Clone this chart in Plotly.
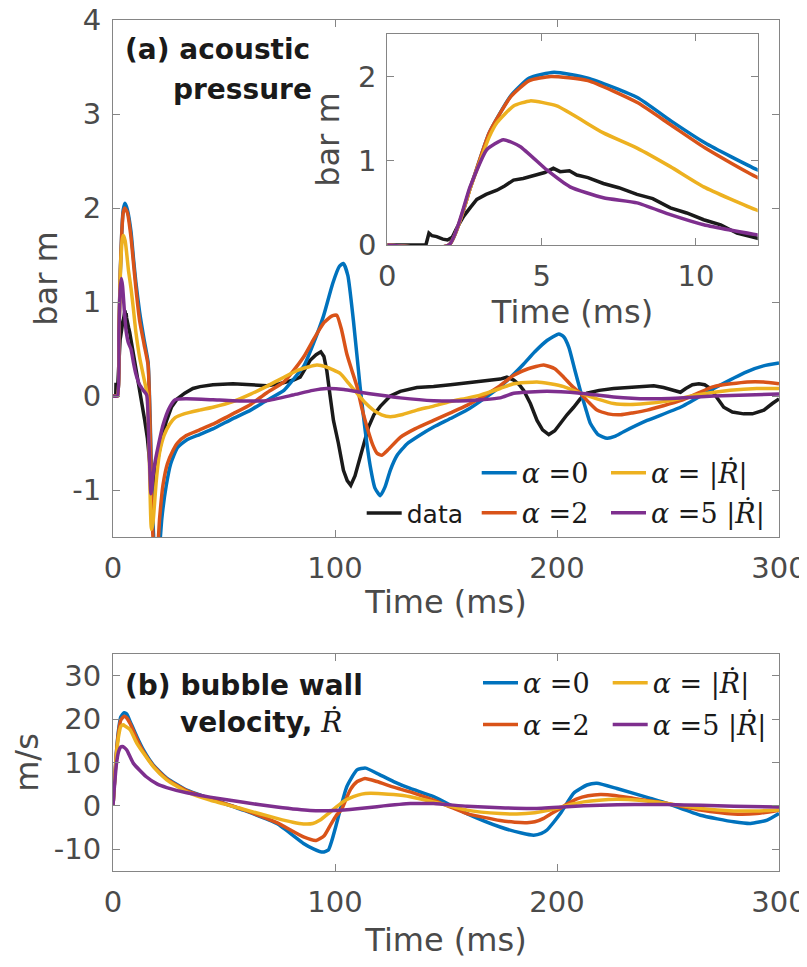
import plotly.graph_objects as go

# page: 807 x 967 window, the figure div sits 8 px in from the top-left (body margin)
OFF = 8
W, H = 807 - OFF, 967 - 2 * OFF

# ---------------- data: panel (a) acoustic pressure (bar m) vs time (ms) ----------------
t_data = [0, 1.25, 1.35, 1.45, 1.6, 1.8, 1.95, 2.1, 2.25, 2.47, 2.7, 2.9, 3.2, 3.55, 3.8, 4.09, 4.4,
          4.84, 5.1, 5.38, 5.6, 5.9, 6.14, 6.5, 7.0, 7.5, 8.09, 8.6, 9.17, 9.7, 10.25, 10.8, 11.33,
          12.0, 13.0, 14.3, 15.5, 16.5, 17.3, 18.0, 19.0, 20.0, 21.8, 24.0, 26.3, 29.0, 32.3, 36.0,
          39.2, 45, 54, 62, 69.3, 75, 81.3, 84.3, 88.8, 91.5, 93.6, 95.0, 96.3, 97.8, 99.3, 101.5,
          103.8, 105.5, 107.1, 109, 111.3, 113.2, 115.1, 117.5, 120.4, 124.9, 129.4, 136.9, 144.4,
          152, 159.4, 166, 174.4, 177.4, 180.5, 183, 185, 188, 191, 193.5, 196.3, 199, 201.5, 204.5,
          207.5, 210.5, 213.5, 219, 225.5, 233, 240.6, 243.6, 248, 252, 255.6, 258, 261, 263.9,
          266.5, 269.1, 272, 275.1, 279, 284.1, 288, 293.2, 297, 300]
p_data = [0, 0, 0.14, 0.11, 0.10, 0.07, 0.06, 0.09, 0.20, 0.34, 0.45, 0.54, 0.60, 0.65, 0.70, 0.77,
          0.79, 0.83, 0.86, 0.91, 0.87, 0.88, 0.83, 0.80, 0.73, 0.68, 0.60, 0.55, 0.44, 0.38, 0.30,
          0.24, 0.14, 0.08, -0.05, -0.26, -0.45, -0.72, -0.95, -1.07, -0.9, -0.7, -0.47, -0.27,
          -0.12, -0.03, 0.03, 0.08, 0.10, 0.12, 0.13, 0.12, 0.11, 0.13, 0.17, 0.2, 0.38, 0.44, 0.47,
          0.42, 0.27, 0.0, -0.26, -0.5, -0.79, -0.9, -0.95, -0.85, -0.66, -0.48, -0.33, -0.2, -0.11,
          0.0, 0.05, 0.09, 0.10, 0.12, 0.14, 0.15, 0.18, 0.2, 0.17, 0.12, 0.06, -0.08, -0.26, -0.36,
          -0.41, -0.37, -0.29, -0.2, -0.12, -0.03, 0.03, 0.06, 0.08, 0.09, 0.10, 0.11, 0.09, 0.06,
          0.04, 0.08, 0.12, 0.13, 0.12, 0.08, -0.02, -0.12, -0.17, -0.19, -0.19, -0.15, -0.08, -0.03]

t_a0 = [0, 2.0, 2.7, 3.3, 4.0, 4.6, 5.4, 6.5, 8.1, 9.2, 10.3, 12.0, 14.0, 15.8, 16.8, 17.8, 18.8,
        19.8, 21.0, 22.0, 24.0, 26.0, 29.0, 33.0, 39.0, 45.0, 54.0, 62.0, 69.0, 77.0, 81.0, 86.0,
        90.3, 94.8, 99.0, 102.0, 103.8, 105.8, 108.3, 111.3, 113.5, 115.9, 118.0, 120.4, 122.5,
        124.9, 128.0, 132.4, 138.0, 144.4, 152.0, 159.4, 167.0, 174.4, 180.0, 185.0, 190.0, 195.5,
        200.8, 203.0, 205.3, 208.0, 210.5, 213.0, 215.0, 218.5, 222.6, 226.0, 230.0, 240.6, 255.6,
        270.6, 285.7, 293.0, 300.0]
p_a0 = [0, 0, 0.69, 1.33, 1.77, 1.98, 2.05, 1.98, 1.75, 1.47, 1.21, 0.89, 0.6, 0.36, -0.3, -1.2,
        -1.7, -1.8, -1.6, -1.3, -0.95, -0.72, -0.55, -0.47, -0.41, -0.35, -0.24, -0.15, -0.05,
        0.06, 0.17, 0.32, 0.56, 0.85, 1.2, 1.38, 1.41, 1.28, 0.8, 0.10, -0.35, -0.75, -0.98, -1.06,
        -0.97, -0.79, -0.63, -0.51, -0.42, -0.33, -0.24, -0.15, -0.03, 0.10, 0.22, 0.34, 0.47,
        0.59, 0.66, 0.63, 0.52, 0.28, 0.06, -0.14, -0.29, -0.41, -0.45, -0.43, -0.38, -0.26,
        -0.12, 0.08, 0.26, 0.32, 0.35]

t_a2 = [0, 2.0, 2.7, 3.3, 4.0, 4.6, 5.3, 6.5, 8.1, 9.2, 10.3, 12.0, 14.0, 15.8, 16.8, 17.8, 18.8,
        19.8, 21.0, 22.5, 24.5, 27.0, 29.0, 33.0, 39.0, 45.0, 54.0, 62.0, 69.0, 77.0, 81.3, 86.0,
        90.3, 95.0, 98.5, 100.8, 103.0, 105.3, 107.5, 109.9, 112.0, 114.4, 117.0, 119.0, 121.1,
        124.0, 129.4, 136.0, 144.4, 152.0, 159.4, 167.0, 174.4, 180.5, 187.0, 194.0, 199.0, 203.0,
        207.0, 210.5, 214.0, 218.0, 223.0, 228.6, 234.0, 240.6, 255.6, 270.6, 285.7, 293.0, 300.0]
p_a2 = [0, 0, 0.69, 1.33, 1.76, 1.95, 2.0, 1.95, 1.69, 1.42, 1.15, 0.80, 0.55, 0.33, -0.4, -1.4,
        -1.75, -1.7, -1.3, -0.95, -0.72, -0.58, -0.5, -0.42, -0.36, -0.3, -0.19, -0.09, 0.03, 0.15,
        0.27, 0.42, 0.6, 0.78, 0.85, 0.86, 0.7, 0.45, 0.28, 0.1, -0.12, -0.33, -0.52, -0.61, -0.63,
        -0.57, -0.44, -0.35, -0.26, -0.18, -0.10, 0.0, 0.11, 0.22, 0.29, 0.33, 0.29, 0.2, 0.1, 0.03,
        -0.06, -0.15, -0.19, -0.2, -0.18, -0.15, -0.05, 0.1, 0.15, 0.15, 0.13]

t_ar = [0, 2.0, 2.7, 3.3, 3.55, 4.09, 4.63, 5.49, 7.0, 8.09, 9.17, 10.25, 12.0, 14.0, 15.5, 16.3,
        17.3, 18.0, 19.5, 21.0, 23.0, 25.5, 28.0, 32.0, 39.0, 45.0, 54.0, 62.0, 69.0, 77.0, 84.0,
        91.8, 96.0, 102.3, 106.0, 109.9, 113.5, 117.3, 121.0, 124.9, 130.0, 136.9, 144.0, 151.9,
        160.0, 165.4, 174.4, 180.5, 191.0, 197.0, 203.0, 210.5, 218.0, 225.5, 233.0, 240.0, 248.0,
        263.0, 278.0, 290.0, 300.0]
p_ar = [0, 0, 0.69, 1.28, 1.45, 1.65, 1.71, 1.65, 1.33, 1.15, 0.93, 0.69, 0.41, 0.18, 0.0, -0.6,
        -1.42, -1.35, -0.9, -0.6, -0.42, -0.3, -0.23, -0.19, -0.15, -0.12, -0.06, 0.02, 0.1, 0.2,
        0.28, 0.33, 0.31, 0.24, 0.14, 0.03, -0.07, -0.15, -0.2, -0.22, -0.2, -0.15, -0.11, -0.06,
        -0.02, 0.01, 0.08, 0.13, 0.15, 0.13, 0.1, 0.03, -0.03, -0.08, -0.09, -0.08, -0.06, 0.01,
        0.06, 0.08, 0.08]

t_a5 = [0, 2.0, 2.68, 3.22, 3.76, 4.3, 5.17, 5.92, 7.0, 8.09, 9.17, 10.25, 12.0, 14.0, 15.2, 16.2,
        17.1, 18.0, 18.8, 20.3, 22.5, 25.5, 28.0, 33.0, 45.0, 54.0, 69.0, 81.0, 90.0, 96.3, 104.0,
        111.3, 120.0, 129.4, 144.4, 159.4, 174.4, 180.5, 195.5, 210.5, 225.5, 240.6, 255.6, 270.6,
        285.7, 300.0]
p_a5 = [0, 0, 0.69, 1.13, 1.25, 1.17, 0.89, 0.69, 0.56, 0.50, 0.36, 0.24, 0.12, 0.05, 0.01, -0.5,
        -1.04, -0.85, -0.72, -0.54, -0.31, -0.12, -0.04, -0.03, -0.04, -0.05, -0.05, 0.01, 0.06,
        0.08, 0.07, 0.04, 0.01, -0.02, -0.05, -0.05, -0.02, 0.03, 0.05, 0.03, -0.01, -0.03, -0.02,
        0.0, 0.01, 0.02]

# ---------------- data: panel (b) bubble wall velocity (m/s) vs time (ms) ----------------
t_v0 = [0, 0.5, 1.5, 2.5, 3.5, 5.0, 6.2, 7.7, 10.7, 13.7, 18.2, 24.2, 33.2, 43.7, 58.7, 73.8, 85.8,
        90.5, 94.5, 97.0, 98.6, 100.5, 102.3, 105.3, 109.9, 113.8, 118.9, 126.4, 133.9, 144.4,
        159.4, 174.4, 184.0, 189.5, 193.0, 195.5, 198.5, 201.5, 204.5, 207.5, 213.5, 218.0, 227.0,
        242.1, 249.6, 264.6, 279.6, 287.2, 294.7, 300.0]
v_v0 = [0, 4, 12, 17.5, 20.5, 21.5, 21.2, 19.5, 16.0, 12.9, 9.4, 6.4, 3.6, 1.7, -1.0, -4.1, -8.7,
        -10.0, -10.7, -10.2, -8.0, -4.5, -1.0, 4.4, 8.3, 8.7, 7.5, 5.6, 4.0, 2.1, -1.8, -4.9, -6.3,
        -6.8, -6.4, -5.6, -3.8, -1.8, 0.6, 2.9, 4.8, 5.2, 4.0, 1.7, 0.55, -2.2, -3.7, -4.1, -3.3,
        -1.8]

t_v2 = [0, 0.5, 1.5, 2.5, 3.5, 5.0, 6.2, 7.7, 10.7, 13.7, 18.2, 24.2, 33.2, 43.7, 58.7, 73.8, 85.8,
        91.5, 95.0, 98.0, 100.5, 103.0, 105.0, 107.0, 110.0, 113.5, 118.9, 126.4, 133.9, 144.4,
        159.4, 174.4, 181.0, 186.5, 190.0, 194.0, 197.5, 201.5, 205.0, 209.0, 214.0, 219.5, 226.0,
        234.6, 249.6, 264.6, 279.6, 290.0, 300.0]
v_v2 = [0, 4, 12, 17, 19.8, 20.7, 20.3, 19.0, 15.5, 12.5, 9.2, 6.2, 3.5, 1.6, -0.9, -3.9, -7.2,
        -8.0, -7.0, -4.4, -2.3, -0.8, 1.6, 3.8, 5.6, 6.3, 5.6, 4.3, 3.2, 1.3, -1.8, -3.4, -3.8, -3.9,
        -3.7, -2.9, -1.8, -0.6, 0.5, 1.6, 2.3, 2.6, 2.4, 1.7, 0.55, -1.0, -1.9, -1.8, -1.0]

t_vr = [0, 0.5, 1.5, 2.5, 3.5, 4.6, 5.5, 7.7, 10.7, 13.7, 18.2, 24.2, 33.2, 43.7, 58.7, 73.8, 81.0,
        85.8, 90.0, 93.3, 97.0, 100.8, 104.5, 108.3, 112.0, 115.9, 121.0, 126.4, 133.9, 144.4,
        159.4, 174.4, 181.9, 190.0, 196.6, 202.5, 207.0, 212.0, 219.0, 227.0, 237.0, 249.6, 264.6,
        279.6, 290.0, 300.0]
v_vr = [0, 4, 11.5, 16, 18.3, 18.7, 18.4, 17.6, 14.5, 12.2, 9.0, 6.0, 3.2, 1.3, -0.8, -2.9, -3.8,
        -4.2, -4.1, -3.3, -1.8, -0.2, 1.2, 2.1, 2.7, 2.9, 2.8, 2.6, 2.1, 0.9, -1.0, -1.8, -1.9,
        -1.6, -1.0, -0.2, 0.4, 0.9, 1.3, 1.5, 1.3, 0.55, -0.6, -1.2, -1.2, -1.0]

t_v5 = [0, 0.5, 1.5, 2.5, 3.5, 4.2, 5.0, 6.2, 9.2, 15.0, 20.0, 24.2, 33.2, 43.7, 58.7, 73.8, 88.8,
        100.0, 110.0, 118.9, 133.9, 144.4, 159.4, 174.4, 189.5, 204.5, 219.5, 235.0, 249.6, 265.0,
        279.6, 300.0]
v_v5 = [0, 3.5, 9.5, 12.5, 13.6, 13.7, 13.5, 12.9, 9.8, 6.7, 5.0, 4.2, 3.0, 2.0, 0.8, -0.3, -1.1,
        -1.1, -0.7, -0.2, 0.5, 0.5, -0.1, -0.45, -0.6, -0.2, 0.15, 0.3, 0.3, 0.1, -0.1, -0.3]

# ---------------- labels ----------------
x_ticks = [0, 100, 200, 300]
pa_ticks = [-1, 0, 1, 2, 3, 4]
pa_ticktext = ["-1", "0", "1", "2", "3", "4"]
inset_xticks = [0, 5, 10]
inset_yticks = [0, 1, 2]
v_ticks = [-10, 0, 10, 20, 30]
v_ticktext = ["-10", "0", "10", "20", "30"]

C_DATA = "#1a1a1a"
C_A0 = "#0072BD"
C_A2 = "#D95319"
C_AR = "#EDB120"
C_A5 = "#7E2F8E"

RD = "<i>Ṙ</i>"
names = {
    "data": "data",
    "a0": "<i>α</i> =0",
    "a2": "<i>α</i> =2",
    "ar": "<i>α</i> = |" + RD + "|",
    "a5": "<i>α</i> =5 |" + RD + "|",
}

LW = 3.5
fig = go.Figure()

main_series = [
    ("data", t_data, p_data, C_DATA, "legend", "linear"),
    ("a0", t_a0, p_a0, C_A0, "legend2", "spline"),
    ("a2", t_a2, p_a2, C_A2, "legend3", "spline"),
    ("ar", t_ar, p_ar, C_AR, "legend4", "spline"),
    ("a5", t_a5, p_a5, C_A5, "legend5", "spline"),
]
for key, tx, vy, col, leg, shape in main_series:
    fig.add_trace(go.Scatter(x=tx, y=vy, mode="lines", name=names[key], legend=leg,
                             line=dict(color=col, width=LW, shape=shape, smoothing=0.5),
                             xaxis="x", yaxis="y"))
for key, tx, vy, col, leg, shape in main_series:
    fig.add_trace(go.Scatter(x=tx, y=vy, mode="lines", name=names[key], showlegend=False,
                             line=dict(color=col, width=LW, shape=shape, smoothing=0.5),
                             xaxis="x2", yaxis="y2"))
b_series = [
    ("a0", t_v0, v_v0, C_A0, "legend6"),
    ("a2", t_v2, v_v2, C_A2, "legend7"),
    ("ar", t_vr, v_vr, C_AR, "legend8"),
    ("a5", t_v5, v_v5, C_A5, "legend9"),
]
for key, tx, vy, col, leg in b_series:
    fig.add_trace(go.Scatter(x=tx, y=vy, mode="lines", name=names[key], legend=leg,
                             line=dict(color=col, width=LW, shape="spline", smoothing=0.5),
                             xaxis="x3", yaxis="y3"))


def px(x):
    return (x - OFF) / W


def py(y):
    return 1 - (y - OFF) / H


AX_LINE = "#858585"
TXT = "#4a4a4a"
SANS = "DejaVu Sans, Liberation Sans, sans-serif"
SERIF = "DejaVu Serif, Liberation Serif, serif"
tickfont = dict(family=SANS, size=29, color=TXT)
titlefont = dict(family=SANS, size=32, color=TXT)

common = dict(showgrid=False, zeroline=False, showline=True, linecolor=AX_LINE, linewidth=1,
              mirror="ticks", ticks="inside", ticklen=7, tickcolor=AX_LINE, tickwidth=1,
              tickfont=tickfont, automargin=False, ticklabeloverflow="allow")

fig.update_layout(
    width=W, height=H, autosize=False,
    margin=dict(l=0, r=0, t=0, b=0),
    paper_bgcolor="white", plot_bgcolor="white",
    xaxis=dict(domain=[px(113), px(779)], range=[0, 300], tickvals=x_ticks, anchor="y",
               title=dict(text="Time (ms)", font=titlefont, standoff=6), ticklabelstandoff=5,
               **common),
    yaxis=dict(domain=[py(537), py(20)], range=[-1.5, 4], tickvals=pa_ticks, ticktext=pa_ticktext,
               anchor="x", title=dict(text="bar m", font=titlefont, standoff=5),
               ticklabelstandoff=5, **common),
    xaxis2=dict(domain=[px(387.3), px(757.7)], range=[0, 12], tickvals=inset_xticks, anchor="y2",
                title=dict(text="Time (ms)", font=titlefont, standoff=4), ticklabelstandoff=5,
                **common),
    yaxis2=dict(domain=[py(245), py(34.3)], range=[0, 2.5], tickvals=inset_yticks, anchor="x2",
                title=dict(text="bar m", font=titlefont, standoff=8), ticklabelstandoff=4,
                **common),
    xaxis3=dict(domain=[px(113), px(779)], range=[0, 300], tickvals=x_ticks, anchor="y3",
                title=dict(text="Time (ms)", font=titlefont, standoff=14), ticklabelstandoff=5,
                **common),
    yaxis3=dict(domain=[py(870.7), py(654.3)], range=[-15, 35], tickvals=v_ticks,
                ticktext=v_ticktext, anchor="x3",
                title=dict(text="m/s", font=titlefont, standoff=6), ticklabelstandoff=5, **common),
    showlegend=True,
)


def leg(xline, ycen, family, size):
    return dict(x=px(xline - 5), y=py(ycen), xanchor="left", yanchor="middle",
                bgcolor="rgba(0,0,0,0)", borderwidth=0, itemwidth=35,
                font=dict(family=family, size=size, color="#1a1a1a"))


fig.update_layout(
    legend=leg(366.7, 513.3, SANS, 25),
    legend2=leg(481.7, 473.3, SERIF, 27),
    legend3=leg(481.7, 513.3, SERIF, 27),
    legend4=leg(611.0, 473.3, SERIF, 27),
    legend5=leg(611.0, 513.3, SERIF, 27),
    legend6=leg(483.0, 683.3, SERIF, 27),
    legend7=leg(483.0, 725.0, SERIF, 27),
    legend8=leg(612.7, 683.3, SERIF, 27),
    legend9=leg(612.7, 725.0, SERIF, 27),
)

BOLD = dict(family=SANS, size=28, color="#1a1a1a")
ann = [
    dict(text="<b>(a) acoustic</b>", x=px(123), y=py(50)),
    dict(text="<b>pressure</b>", x=px(171), y=py(89)),
    dict(text="<b>(b) bubble wall</b>", x=px(123), y=py(685)),
    dict(text="<b>velocity,</b> <span style=\"font-family:DejaVu Serif\">" + RD + "</span>",
         x=px(178), y=py(722)),
]
for a in ann:
    fig.add_annotation(xref="paper", yref="paper", xanchor="left", yanchor="middle",
                       showarrow=False, font=BOLD, **a)

fig.write_html("out.html")
